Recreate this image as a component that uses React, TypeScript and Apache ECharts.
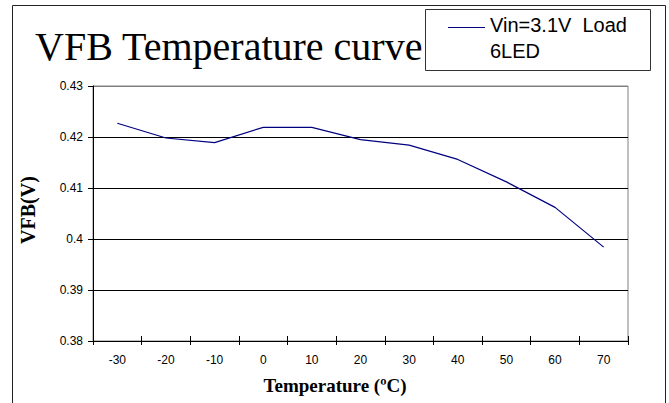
import React, { useEffect, useRef } from "react";
import * as echarts from "echarts";

const temperatures = ["-30", "-20", "-10", "0", "10", "20", "30", "40", "50", "60", "70"];
const vfbValues = [0.4227, 0.4198, 0.4189, 0.4219, 0.4219, 0.4195, 0.4184, 0.4156, 0.4112, 0.4062, 0.3984];
const seriesName = "Vin=3.1V  Load";
const seriesName2 = "6LED";
const chartTitle = "VFB Temperature curve";
const xTitle = "Temperature (ºC)";
const yTitle = "VFB(V)";

const SANS = '"Liberation Sans", Arial, sans-serif';
const SERIF = '"Liberation Serif", "Times New Roman", serif';

export default function App() {
  const ref = useRef<HTMLDivElement>(null);
  useEffect(() => {
    if (!ref.current) return;
    const chart = echarts.init(ref.current, null, { renderer: "svg" });
    chart.setOption({
      animation: false,
      backgroundColor: "#fff",
      grid: {
        left: 93,
        right: 41,
        top: 86,
        bottom: 62,
        show: true,
        borderColor: "#808080",
        borderWidth: 1,
        backgroundColor: "transparent",
      },
      xAxis: [
        {
          type: "category",
          data: temperatures,
          boundaryGap: true,
          position: "bottom",
          axisLine: { show: true, lineStyle: { color: "#000", width: 1 } },
          axisTick: { show: true, interval: 0, length: 4, lineStyle: { color: "#000" } },
          axisLabel: { interval: 0, margin: 13, fontFamily: SANS, fontSize: 12, color: "#000" },
          splitLine: { show: false },
        },
        {
          type: "category",
          data: temperatures,
          boundaryGap: true,
          position: "bottom",
          axisLine: { show: false },
          axisTick: { show: true, inside: true, interval: 0, length: 5, lineStyle: { color: "#000" } },
          axisLabel: { show: false },
          splitLine: { show: false },
        },
      ],
      yAxis: {
        type: "value",
        min: 0.38,
        max: 0.43,
        interval: 0.01,
        axisLine: { show: true, lineStyle: { color: "#000", width: 1 } },
        axisTick: { show: true, length: 5, lineStyle: { color: "#000" } },
        axisLabel: {
          margin: 10,
          fontFamily: SANS,
          fontSize: 12,
          color: "#000",
          formatter: (v: number) => String(parseFloat(v.toFixed(2))),
        },
        splitLine: {
          show: true,
          lineStyle: { color: ["#000", "#000", "#000", "#000", "#000", "#808080"], width: 1 },
        },
      },
      series: [
        {
          name: seriesName,
          type: "line",
          xAxisIndex: 0,
          data: vfbValues,
          symbol: "none",
          lineStyle: { color: "#000080", width: 1.2 },
        },
      ],
      graphic: [
        {
          type: "rect",
          shape: { x: 12.5, y: 5.5, width: 653, height: 420 },
          style: { fill: "none", stroke: "#222", lineWidth: 1 },
          silent: true,
        },
        {
          type: "text",
          x: 35,
          y: 46,
          style: {
            text: chartTitle,
            font: `40px ${SERIF}`,
            fill: "#000",
            verticalAlign: "middle",
            align: "left",
          },
        },
        {
          type: "rect",
          shape: { x: 425.5, y: 9.5, width: 225, height: 61 },
          style: { fill: "#fff", stroke: "#333", lineWidth: 1 },
        },
        {
          type: "line",
          shape: { x1: 448, y1: 27.5, x2: 485, y2: 27.5 },
          style: { stroke: "#000080", lineWidth: 1.2 },
        },
        {
          type: "text",
          x: 490,
          y: 25,
          style: {
            text: seriesName,
            font: `20px ${SANS}`,
            fill: "#000",
            verticalAlign: "middle",
            align: "left",
          },
        },
        {
          type: "text",
          x: 490,
          y: 51,
          style: {
            text: seriesName2,
            font: `20px ${SANS}`,
            fill: "#000",
            verticalAlign: "middle",
            align: "left",
          },
        },
        {
          type: "text",
          x: 28,
          y: 210,
          rotation: Math.PI / 2,
          style: {
            text: yTitle,
            font: `bold 20px ${SERIF}`,
            fill: "#000",
            verticalAlign: "middle",
            align: "center",
          },
        },
        {
          type: "text",
          x: 335,
          y: 385.5,
          style: {
            text: xTitle,
            font: `bold 19px ${SERIF}`,
            fill: "#000",
            verticalAlign: "middle",
            align: "center",
          },
        },
      ],
    });
    return () => chart.dispose();
  }, []);
  return (
    <div
      ref={ref}
      style={{ position: "fixed", left: 0, top: 0, width: 669, height: 403, background: "#fff" }}
    />
  );
}
